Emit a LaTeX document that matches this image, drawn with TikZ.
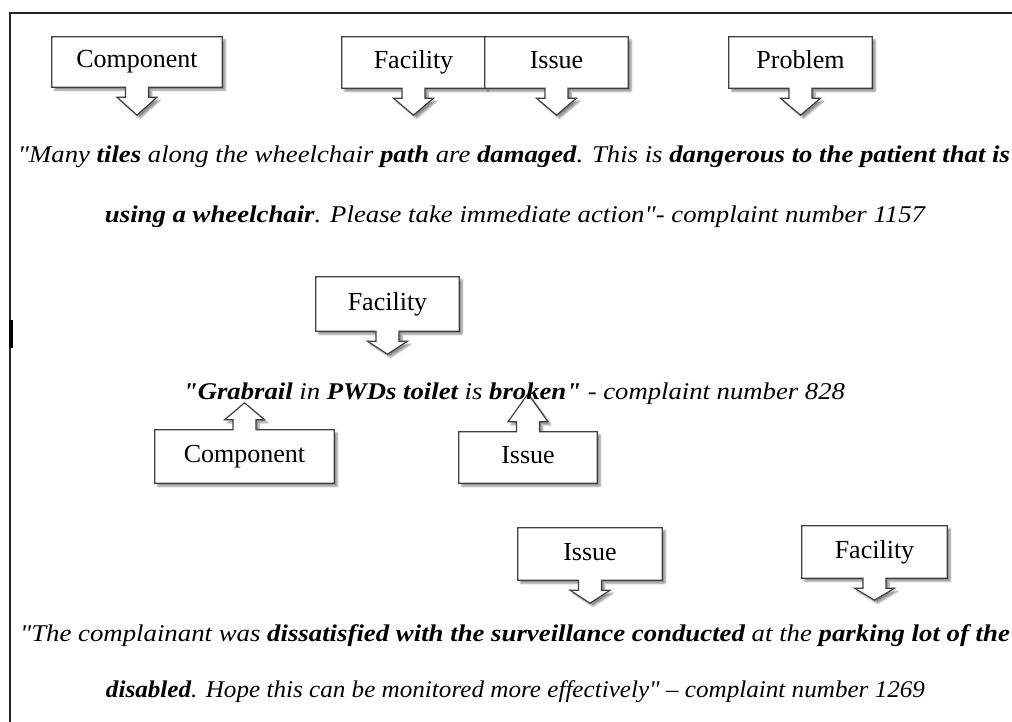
\documentclass[tikz,border=0pt]{standalone}
\usepackage{fontspec}
\setmainfont{Liberation Serif}
\usetikzlibrary{calc,backgrounds,shadows.blur}

\tikzset{
  tagbox/.style={font=\fontsize{26}{30}\selectfont, minimum width=143pt,
    minimum height=51pt, inner sep=0pt, text height=17pt, text depth=5pt},
  tagline/.style={draw=black!75, line width=1.2pt, fill=white,
    blur shadow={shadow xshift=3pt, shadow yshift=-3pt,
      shadow blur steps=6, shadow opacity=45}},
  quote/.style={font=\fontsize{24}{28}\selectfont\itshape, inner sep=0pt,
    anchor=base}
}

% callout outline round a named node, pointer below / above
\newcommand{\downtag}[2]{%
  \begin{scope}[on background layer]
    \draw[tagline] (#1.south west) -- (#1.north west) -- (#1.north east)
      -- (#1.south east) -- ($(#1.south)+(11.5,0)$) -- ++(0,10) -- ++(8.5,0)
      -- ($(#1.south)+(0,#2)$) -- ($(#1.south)+(-20,10)$) -- ++(8.5,0)
      -- ++(0,-10) -- cycle;
  \end{scope}}
\newcommand{\uptag}[2]{%
  \begin{scope}[on background layer]
    \draw[tagline] (#1.north east) -- (#1.south east) -- (#1.south west)
      -- (#1.north west) -- ($(#1.north)+(-11.5,0)$) -- ++(0,-10) -- ++(-8.5,0)
      -- ($(#1.north)+(0,-#2)$) -- ($(#1.north)+(20,-10)$) -- ++(-8.5,0)
      -- ++(0,10) -- cycle;
  \end{scope}}
\newcommand{\dq}{\textquotedbl}

\begin{document}
\begin{tikzpicture}[x=1pt, y=-1pt]
  \useasboundingbox (0,0) rectangle (1012,722);
  \draw[line width=2pt, black!85] (10,722) -- (10,13) -- (1012,13);
  \draw[line width=4pt] (11,320) -- (11,348);

  % first complaint
  \node[tagbox, minimum width=170pt, minimum height=50pt] (comp1) at (137,62) {Component};
  \node[tagbox] (fac1) at (413.5,62.5) {Facility};
  \node[tagbox] (iss1) at (556.5,62.5) {Issue};
  \node[tagbox] (prob1) at (800.5,62.5) {Problem};
  \downtag{comp1}{28}
  \downtag{fac1}{27}
  \downtag{iss1}{27}
  \downtag{prob1}{27}
  \node[quote] (line1a) at (514,163) {\resizebox{992pt}{\height}{\dq Many \textbf{tiles} along the wheelchair \textbf{path} are \textbf{damaged}. This is \textbf{dangerous to the patient that is}}};
  \node[quote] (line1b) at (515,223) {\resizebox{820pt}{\height}{\textbf{using a wheelchair}. Please take immediate action\dq- complaint number 1157}};

  % second complaint
  \node[tagbox, minimum height=54pt] (fac2) at (387.5,304) {Facility};
  \downtag{fac2}{23}
  \node[quote] (line2) at (514,399) {\resizebox{662pt}{\height}{\textbf{\dq Grabrail} in \textbf{PWDs toilet} is \textbf{broken\dq} - complaint number 828}};
  \node[tagbox, minimum width=179pt, minimum height=53pt] (comp2) at (244.5,456.5) {Component};
  \node[tagbox, minimum width=138pt] (iss2) at (528,457.5) {Issue};
  \uptag{comp2}{27}
  \uptag{iss2}{38}

  % third complaint
  \node[tagbox, minimum width=144pt, minimum height=52pt] (iss3) at (590,554) {Issue};
  \node[tagbox, minimum width=145pt, minimum height=52pt] (fac3) at (874.5,552) {Facility};
  \downtag{iss3}{23}
  \downtag{fac3}{22}
  \node[quote] (line3a) at (515,641) {\resizebox{990pt}{\height}{\dq The complainant was \textbf{dissatisfied with the surveillance conducted} at the \textbf{parking lot of the}}};
  \node[quote] (line3b) at (515.5,697) {\resizebox{819pt}{\height}{\textbf{disabled}. Hope this can be monitored more effectively\dq{} – complaint number 1269}};
\end{tikzpicture}
\end{document}
